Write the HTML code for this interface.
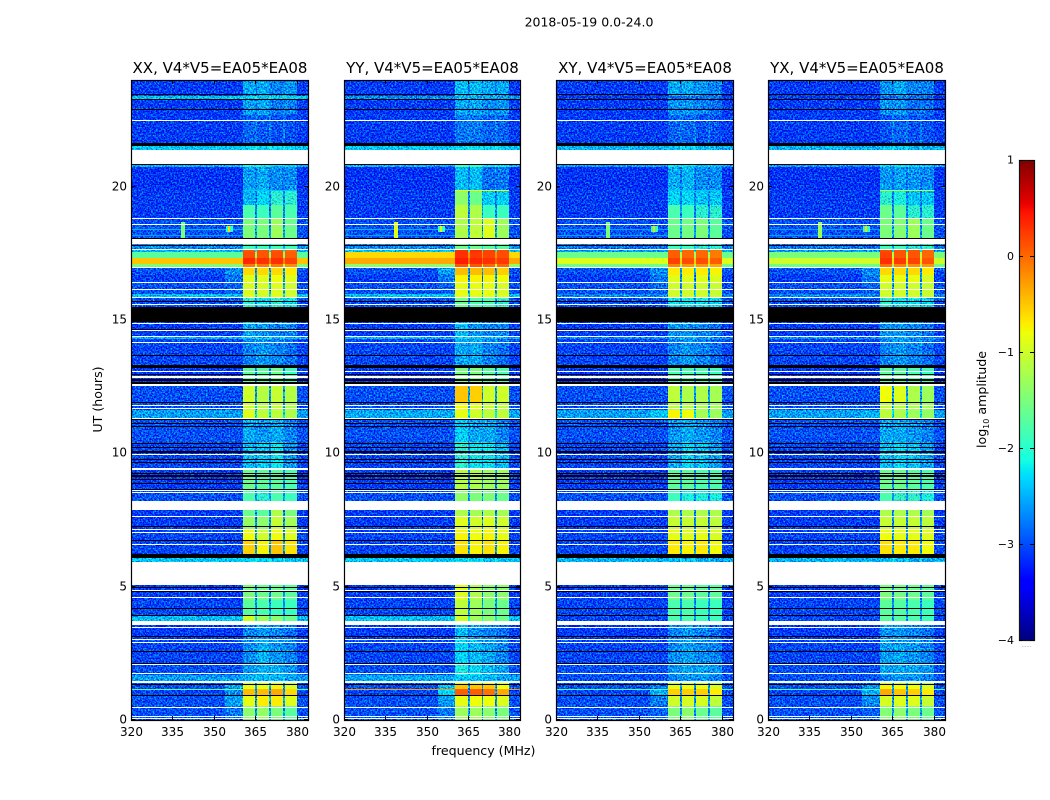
<!DOCTYPE html>
<html lang="en">
<head>
<meta charset="utf-8">
<title>2018-05-19 waterfall</title>
<style>
html,body{margin:0;padding:0;background:#fff;}
svg{display:block;font-family:"DejaVu Sans","Liberation Sans",sans-serif;fill:#000;}
</style>
</head>
<body>
<svg id="chart" xmlns="http://www.w3.org/2000/svg" width="1050" height="800" viewBox="0 0 1050 800">
<defs>
<filter id="speckle" filterUnits="userSpaceOnUse" x="120" y="70" width="840" height="660" color-interpolation-filters="sRGB">
<feTurbulence type="fractalNoise" baseFrequency="0.62" numOctaves="2" seed="7" result="n"/>
<feColorMatrix in="n" type="matrix" values="0 0 0 0 0.5  1.9 0 0 0 -0.45  0 0.9 0 0 0.05  0 0 0 0 1" result="m"/>
<feComposite in="SourceGraphic" in2="m" operator="arithmetic" k1="0" k2="1" k3="1" k4="-0.5" result="a"/>
<feComposite in="a" in2="SourceGraphic" operator="in"/>
</filter>
</defs>
<text x="589" y="26.5" font-size="12.5" text-anchor="middle">2018-05-19 0.0-24.0</text>
<text x="483.5" y="755" font-size="12.6" text-anchor="middle">frequency (MHz)</text>
<text x="0" y="0" font-size="12.6" text-anchor="middle" transform="translate(102,399.5) rotate(-90)">UT (hours)</text>
<text x="0" y="0" font-size="12.6" text-anchor="middle" transform="translate(986,399.5) rotate(-90)">log<tspan font-size="8" dy="3">10</tspan><tspan dy="-3"> amplitude</tspan></text>
<g id="panels"></g>
<g id="cbar"></g>
</svg>
<script>
// ---- chart data ----
const panelTitles = ["XX, V4*V5=EA05*EA08","YY, V4*V5=EA05*EA08","XY, V4*V5=EA05*EA08","YX, V4*V5=EA05*EA08"];
const freqTicks = [320,335,350,365,380];
const timeTicks = [0,5,10,15,20];
const cbarTicks = [-4,-3,-2,-1,0,1];

// time edges (UT hours) of the rows, top of plot downward
const rowEdges = [24,23.4,23.25,22.69,21.525,20.85,20.74,19.875,19.31,18.825,17.85,17.625,17.55,17.325,17.1,16.95,16.69,16.39,15.975,15.825,14.925,14.36,14.29,13.275,12.525,11.89,11.625,11.325,10.425,9.375,8.625,8.21,7.875,7.61,7.125,6.71,6.11,5.925,5.06,4.5,3.9,3.71,3.0,2.06,1.69,1.46,1.31,1.16,0.9,0.525,0];

// frequency edges (MHz): background, shoulder, band 1..4 with notches, background
const freqEdges = [320,354,360.4,365,365.7,370,370.7,375,375.7,380,384];

// log10 amplitude per row: [background, shoulder, band1, band2, band3, band4]
const levelsXX = [
[-3.1,-3.1,-2.55,-2.55,-2.75,-2.65],[-2.4,-2.4,-2.35,-2.35,-2.35,-2.35],[-3.1,-3.1,-2.6,-2.55,-2.8,-2.75],[-3.1,-3.1,-2.9,-2.95,-3.0,-3.0],[-2.4,-2.4,-2.3,-2.3,-2.3,-2.3],
[-2.5,-2.5,-2.0,-2.1,-2.3,-2.3],[-3.15,-3.15,-2.6,-2.55,-2.7,-2.7],[-3.1,-3.1,-2.5,-2.3,-2.0,-2.0],[-3.1,-3.1,-1.8,-1.9,-1.7,-1.8],[-3.0,-3.0,-1.5,-1.5,-1.3,-1.6],
[-2.7,-2.7,-1.9,-1.9,-1.9,-1.9],[-2.5,-2.5,0.1,0.1,0.1,0.0],[-1.7,-1.7,0.15,0.1,0.15,0.05],[-0.5,-0.5,0.35,0.3,0.3,0.2],[-1.5,-1.5,-0.1,-0.1,-0.1,-0.2],
[-3.0,-2.7,-0.6,-0.6,-0.6,-0.7],[-3.1,-2.8,-0.9,-0.9,-0.8,-0.9],[-3.0,-2.9,-0.95,-0.95,-0.9,-1.0],[-2.4,-2.4,-0.9,-1.0,-0.9,-1.0],[-3.0,-3.0,-2.0,-2.2,-2.0,-2.2],
[-3.1,-3.1,-2.55,-2.65,-2.75,-2.75],[-2.5,-2.5,-2.4,-2.4,-2.5,-2.5],[-3.05,-3.05,-2.75,-2.65,-2.75,-2.85],[-3.1,-3.1,-1.7,-1.7,-1.6,-1.9],[-3.0,-3.0,-1.0,-1.15,-1.05,-1.15],
[-3.0,-3.0,-1.0,-1.15,-1.1,-1.2],[-2.6,-2.6,-0.9,-1.1,-1.1,-1.2],[-3.0,-3.0,-2.55,-2.65,-2.55,-2.75],[-3.05,-3.05,-2.45,-2.35,-2.2,-2.65],[-3.1,-3.1,-1.6,-1.7,-1.7,-1.8],
[-3.0,-3.0,-1.8,-2.0,-1.8,-1.9],[-3.0,-3.0,-1.8,-2.0,-1.8,-1.9],[-3.1,-3.1,-1.6,-1.7,-1.2,-1.5],[-3.1,-3.1,-1.35,-1.4,-1.05,-1.25],[-3.05,-3.05,-0.8,-1.0,-0.8,-0.9],
[-3.05,-3.05,-0.55,-0.75,-0.5,-0.65],[-2.4,-2.4,-2.3,-2.3,-2.4,-2.4],[-2.4,-2.4,-2.3,-2.3,-2.4,-2.4],[-3.1,-3.1,-1.5,-1.6,-1.6,-1.7],[-3.05,-3.05,-1.7,-1.8,-1.9,-1.9],
[-2.45,-2.45,-1.0,-1.3,-1.4,-1.6],[-3.1,-3.1,-2.75,-2.65,-2.75,-2.85],[-3.05,-3.05,-2.7,-2.5,-2.65,-2.75],[-3.0,-3.0,-2.65,-2.5,-2.5,-2.65],[-2.6,-2.6,-2.5,-2.5,-2.5,-2.6],
[-3.0,-3.0,-1.0,-1.0,-1.0,-1.1],[-3.0,-2.6,-0.85,-0.85,-0.75,-0.95],[-3.05,-2.7,-0.45,-0.45,-0.35,-0.6],[-3.0,-2.6,-0.85,-0.7,-0.7,-0.9],[-3.0,-2.8,-1.4,-1.35,-1.5,-1.7]
];
const levelsYY = [
[-3.1,-3.1,-2.45,-2.45,-2.55,-2.55],[-2.7,-2.7,-2.5,-2.5,-2.6,-2.6],[-3.1,-3.1,-2.55,-2.55,-2.7,-2.65],[-3.1,-3.1,-2.8,-2.8,-2.9,-2.9],[-2.4,-2.4,-2.25,-2.25,-2.3,-2.3],
[-2.5,-2.5,-1.8,-1.9,-2.2,-2.2],[-3.15,-3.15,-2.45,-2.45,-2.85,-2.8],[-3.1,-3.1,-1.4,-1.6,-2.35,-2.35],[-3.1,-3.1,-1.1,-1.2,-1.9,-1.9],[-3.0,-3.0,-1.2,-1.1,-0.9,-1.3],
[-2.7,-2.7,-1.6,-1.6,-1.7,-1.7],[-2.4,-2.4,0.3,0.3,0.2,0.15],[-0.6,-0.6,0.3,0.25,0.2,0.15],[-0.35,-0.35,0.4,0.35,0.3,0.25],[-1.4,-1.4,0.1,0.1,0.0,0.0],
[-3.0,-2.6,-0.45,-0.45,-0.45,-0.55],[-3.1,-2.8,-0.75,-0.75,-0.75,-0.8],[-3.0,-2.9,-0.85,-0.85,-0.85,-0.95],[-2.4,-2.4,-0.85,-0.9,-0.85,-0.9],[-3.0,-3.0,-1.6,-1.8,-1.8,-1.95],
[-3.1,-3.1,-2.45,-2.65,-2.75,-2.75],[-2.5,-2.5,-2.3,-2.4,-2.5,-2.5],[-3.05,-3.05,-2.55,-2.55,-2.75,-2.85],[-3.1,-3.1,-1.5,-1.5,-1.7,-1.8],[-3.0,-3.0,-0.5,-0.55,-1.0,-1.0],
[-3.0,-3.0,-0.8,-0.9,-1.05,-1.1],[-2.55,-2.55,-0.85,-1.0,-1.1,-1.1],[-3.0,-3.0,-2.35,-2.55,-2.55,-2.75],[-3.05,-3.05,-2.0,-2.2,-2.2,-2.45],[-3.1,-3.1,-1.15,-1.2,-1.3,-1.3],
[-3.0,-3.0,-1.4,-1.5,-1.5,-1.6],[-3.0,-3.0,-1.4,-1.5,-1.5,-1.6],[-3.1,-3.1,-1.2,-1.25,-1.2,-1.25],[-3.1,-3.1,-0.9,-1.0,-0.9,-1.0],[-3.05,-3.05,-0.75,-0.8,-0.75,-0.85],
[-3.05,-3.05,-0.65,-0.75,-0.65,-0.75],[-2.4,-2.4,-2.3,-2.3,-2.4,-2.4],[-2.4,-2.4,-2.3,-2.3,-2.4,-2.4],[-3.1,-3.1,-0.9,-1.2,-1.4,-1.4],[-3.05,-3.05,-1.1,-1.3,-1.5,-1.6],
[-2.45,-2.45,-1.0,-1.3,-1.4,-1.6],[-3.1,-3.1,-2.45,-2.65,-2.75,-2.85],[-3.05,-3.05,-2.3,-2.45,-2.55,-2.75],[-3.0,-3.0,-2.1,-2.25,-2.45,-2.55],[-2.55,-2.55,-2.4,-2.4,-2.5,-2.6],
[-3.0,-3.0,-0.9,-0.9,-0.8,-1.0],[-3.0,-2.4,-0.5,-0.5,-0.5,-0.8],[-3.05,-2.3,0.05,0.05,-0.05,-0.35],[-3.0,-2.6,-0.85,-0.8,-0.8,-0.9],[-3.0,-2.8,-1.3,-1.3,-1.4,-1.5]
];
const levelsXY = [
[-3.1,-3.1,-2.55,-2.55,-2.65,-2.75],[-3.1,-3.1,-2.85,-2.85,-2.85,-2.85],[-3.1,-3.1,-2.65,-2.65,-2.75,-2.85],[-3.1,-3.1,-2.9,-2.9,-3.0,-3.0],[-2.5,-2.5,-2.4,-2.4,-2.5,-2.5],
[-2.6,-2.6,-2.2,-2.2,-2.4,-2.4],[-3.15,-3.15,-2.55,-2.5,-2.7,-2.7],[-3.1,-3.1,-2.3,-2.3,-2.4,-2.4],[-3.1,-3.1,-1.8,-1.9,-2.0,-2.0],[-3.0,-3.0,-1.6,-1.55,-1.5,-1.7],
[-2.8,-2.8,-1.9,-1.9,-2.0,-2.0],[-2.6,-2.6,0.05,0.0,0.0,-0.1],[-1.6,-1.6,0.05,0.0,0.0,-0.1],[-0.9,-0.9,0.2,0.15,0.15,0.05],[-1.6,-1.6,-0.15,-0.25,-0.25,-0.35],
[-3.0,-2.7,-0.7,-0.7,-0.7,-0.75],[-3.1,-2.8,-0.9,-0.9,-0.9,-0.95],[-3.0,-2.9,-1.0,-1.0,-1.0,-1.05],[-2.7,-2.7,-1.0,-1.0,-1.0,-1.05],[-3.0,-3.0,-2.2,-2.2,-2.2,-2.3],
[-3.1,-3.1,-2.65,-2.65,-2.75,-2.85],[-2.7,-2.7,-2.55,-2.55,-2.65,-2.65],[-3.05,-3.05,-2.75,-2.65,-2.75,-2.85],[-3.1,-3.1,-1.8,-1.8,-1.8,-1.9],[-3.0,-3.0,-1.1,-1.2,-1.2,-1.25],
[-3.0,-3.0,-1.15,-1.2,-1.25,-1.3],[-2.6,-2.4,-0.75,-0.8,-1.25,-1.3],[-3.0,-3.0,-2.65,-2.55,-2.65,-2.75],[-3.05,-3.05,-2.55,-2.3,-2.4,-2.6],[-3.1,-3.1,-1.7,-1.7,-1.8,-1.8],
[-3.0,-3.0,-1.9,-2.1,-2.1,-2.1],[-3.0,-3.0,-1.9,-2.1,-2.1,-2.1],[-3.1,-3.1,-1.2,-1.2,-1.2,-1.2],[-3.1,-3.1,-1.05,-1.05,-1.05,-1.1],[-3.05,-3.05,-0.85,-0.9,-0.85,-0.95],
[-3.05,-3.05,-0.7,-0.75,-0.7,-0.8],[-2.5,-2.5,-2.45,-2.45,-2.55,-2.55],[-2.5,-2.5,-2.45,-2.45,-2.55,-2.55],[-3.1,-3.1,-1.6,-1.6,-1.7,-1.7],[-3.05,-3.05,-1.8,-1.8,-1.9,-1.9],
[-3.05,-3.05,-1.8,-1.8,-1.9,-1.9],[-3.1,-3.1,-2.75,-2.65,-2.75,-2.85],[-3.05,-3.05,-2.7,-2.6,-2.7,-2.75],[-3.0,-3.0,-2.65,-2.55,-2.55,-2.65],[-3.0,-3.0,-2.75,-2.65,-2.65,-2.75],
[-3.0,-3.0,-1.1,-1.1,-1.1,-1.2],[-3.0,-2.8,-0.85,-0.85,-0.85,-0.95],[-3.05,-2.5,-0.55,-0.55,-0.55,-0.7],[-3.0,-2.8,-1.0,-0.95,-0.95,-1.1],[-3.0,-2.9,-1.5,-1.4,-1.6,-1.7]
];
const levelsYX = [
[-3.1,-3.1,-2.65,-2.55,-2.75,-2.75],[-3.1,-3.1,-2.85,-2.85,-2.85,-2.95],[-3.1,-3.1,-2.65,-2.65,-2.85,-2.85],[-3.1,-3.1,-3.0,-2.9,-3.0,-3.0],[-2.5,-2.5,-2.4,-2.4,-2.5,-2.5],
[-2.6,-2.6,-2.2,-2.2,-2.4,-2.4],[-3.15,-3.15,-2.65,-2.6,-2.65,-2.7],[-3.1,-3.1,-2.0,-2.1,-2.4,-2.4],[-3.1,-3.1,-1.6,-1.7,-2.0,-2.0],[-3.0,-3.0,-1.5,-1.45,-1.3,-1.6],
[-2.8,-2.8,-1.9,-1.9,-2.0,-2.0],[-2.6,-2.6,0.15,0.1,0.1,0.0],[-1.5,-1.5,0.2,0.1,0.1,0.0],[-1.0,-1.0,0.3,0.25,0.2,0.1],[-1.6,-1.6,-0.05,-0.15,-0.2,-0.25],
[-3.0,-2.7,-0.6,-0.6,-0.6,-0.7],[-3.1,-2.8,-0.85,-0.85,-0.85,-0.95],[-3.0,-2.9,-1.0,-1.0,-1.0,-1.05],[-2.7,-2.7,-1.0,-1.0,-1.0,-1.05],[-3.0,-3.0,-2.0,-2.2,-2.2,-2.3],
[-3.1,-3.1,-2.65,-2.65,-2.75,-2.85],[-2.7,-2.7,-2.55,-2.55,-2.65,-2.65],[-3.05,-3.05,-2.75,-2.65,-2.75,-2.85],[-3.1,-3.1,-1.7,-1.7,-1.8,-1.9],[-3.0,-3.0,-0.8,-0.9,-1.2,-1.3],
[-3.0,-3.0,-1.1,-1.15,-1.25,-1.3],[-2.6,-2.5,-1.1,-1.2,-1.3,-1.35],[-3.0,-3.0,-2.55,-2.55,-2.65,-2.75],[-3.05,-3.05,-2.45,-2.3,-2.4,-2.6],[-3.1,-3.1,-1.6,-1.6,-1.7,-1.8],
[-3.0,-3.0,-1.8,-1.95,-1.95,-2.1],[-3.0,-3.0,-1.8,-1.95,-1.95,-2.1],[-3.1,-3.1,-1.2,-1.2,-1.2,-1.25],[-3.1,-3.1,-1.05,-1.05,-1.05,-1.1],[-3.05,-3.05,-0.8,-0.85,-0.85,-0.9],
[-3.05,-3.05,-0.65,-0.7,-0.7,-0.8],[-2.5,-2.5,-2.45,-2.45,-2.55,-2.55],[-2.5,-2.5,-2.45,-2.45,-2.55,-2.55],[-3.1,-3.1,-1.5,-1.55,-1.6,-1.7],[-3.05,-3.05,-1.7,-1.75,-1.8,-1.9],
[-3.05,-3.05,-1.7,-1.75,-1.8,-1.9],[-3.1,-3.1,-2.65,-2.65,-2.75,-2.85],[-3.05,-3.05,-2.6,-2.55,-2.65,-2.75],[-3.0,-3.0,-2.55,-2.55,-2.55,-2.65],[-3.0,-3.0,-2.75,-2.65,-2.65,-2.75],
[-3.0,-3.0,-1.0,-1.05,-1.1,-1.2],[-3.0,-2.7,-0.75,-0.8,-0.8,-0.95],[-3.05,-2.5,-0.35,-0.5,-0.55,-0.7],[-3.0,-2.7,-0.95,-0.9,-0.9,-1.05],[-3.0,-2.9,-1.45,-1.4,-1.5,-1.6]
];
const panelLevels = [levelsXX, levelsYY, levelsXY, levelsYX];

// flagged-out rows, [start UT, end UT]
const whiteRows = [[22.46,22.5],[20.85,21.375],[18.79,18.825],[18.56,18.6],[17.85,18.04],[17.625,17.66],[16.95,16.99],[16.39,16.425],[16.125,16.16],[15.825,15.86],[15.56,15.6],[14.85,14.89],[14.59,14.625],[14.36,14.4],[14.14,14.175],[13.05,13.09],[12.825,12.9],[12.525,12.6],[11.775,11.81],[11.66,11.7],[11.29,11.325],[9.94,9.975],[9.375,9.45],[8.59,8.625],[8.51,8.55],[7.875,8.21],[7.61,7.65],[7.125,7.16],[7.01,7.05],[6.56,6.6],[5.06,5.925],[4.84,4.875],[4.575,4.61],[3.56,3.71],[3.45,3.49],[3.0,3.04],[2.89,2.925],[2.06,2.1],[1.725,1.76],[1.39,1.46],[0.45,0.49],[0.11,0.15],[0.04,0.075]];
const blackRows = [[23.42,23.49],[23.25,23.29],[22.875,22.91],[21.525,21.64],[20.81,20.85],[18.04,18.075],[17.775,17.81],[15.675,15.71],[14.91,15.47],[14.625,14.66],[13.65,13.69],[13.2,13.31],[12.94,12.975],[12.73,12.79],[12.6,12.68],[11.89,11.925],[11.25,11.29],[11.1,11.14],[10.99,11.03],[10.35,10.39],[10.2,10.24],[10.01,10.07],[9.75,9.79],[9.62,9.675],[9.225,9.26],[9.13,9.17],[9.0,9.04],[8.85,8.89],[8.625,8.68],[7.24,7.275],[6.71,6.75],[6.09,6.225],[4.95,4.99],[4.8,4.84],[4.16,4.2],[3.9,3.94],[3.11,3.15],[2.55,2.59],[2.1,2.14],[1.31,1.35],[0.9,0.94]];

// narrow horizontal RFI lines across the background: UT and per-panel level
const rfiLineTimes = [18.4,18.19,1.15];
const rfiLineLevels = [[-2.5,-2.5,-2.6,-2.6],[-2.6,-2.6,-2.6,-2.6],[-1.7,-0.25,-1.8,-1.8]];

// localised RFI patches: frequency span, time span, per-panel level
const rfiF0 = [338.2,354.3,355.0];
const rfiF1 = [339.5,356.8,355.8];
const rfiT0 = [18.04,18.3,18.3];
const rfiT1 = [18.67,18.52,18.52];
const rfiLevels = [[-1.5,-0.9,-1.5,-1.3],[-2.0,-1.9,-2.0,-2.0],[-0.6,-0.9,-0.6,-0.6]];

// thin line seen across the bands only
const bandLineTime = 19.875;
const bandLineLevels = [-2.4,-0.8,-2.4,-1.2];

// ---- geometry ----
const panelLeft = [131,344,556,768];
const panelRight = [308,520,733,945];
const plotTop = 80;
const plotBottom = 720;
const freqMin = 320, freqMax = 384, timeMax = 24, levelMin = -4, levelMax = 1;
const NS = "http://www.w3.org/2000/svg";

function xScale(i, f){ return panelLeft[i] + (f - freqMin) / (freqMax - freqMin) * (panelRight[i] - panelLeft[i]); }
function yScale(t){ return plotBottom - t / timeMax * (plotBottom - plotTop); }

function jetPiece(v, pts){
  for(let k = 1; k < pts.length; k++){
    if(v <= pts[k][0]){
      const a = pts[k-1], b = pts[k];
      return a[1] + (b[1]-a[1]) * (v-a[0]) / (b[0]-a[0]);
    }
  }
  return pts[pts.length-1][1];
}
function jet(level){
  const v = Math.max(0, Math.min(1, (level - levelMin) / (levelMax - levelMin)));
  const r = jetPiece(v, [[0,0],[0.35,0],[0.66,1],[0.89,1],[1,0.5]]);
  const g = jetPiece(v, [[0,0],[0.125,0],[0.375,1],[0.64,1],[0.91,0],[1,0]]);
  const b = jetPiece(v, [[0,0.5],[0.11,1],[0.34,1],[0.65,0],[1,0]]);
  return "rgb(" + Math.round(r*255) + "," + Math.round(g*255) + "," + Math.round(b*255) + ")";
}
function make(tag, parent){
  const el = document.createElementNS(NS, tag);
  parent.appendChild(el);
  return el;
}
function band(parent, x0, x1, y0, y1, fill){
  const el = make("rect", parent);
  const xa = Math.round(x0), xb = Math.round(x1), ya = Math.round(y0);
  el.setAttribute("x", xa);
  el.setAttribute("y", ya);
  el.setAttribute("width", Math.max(1, xb - xa));
  el.setAttribute("height", Math.max(1, Math.round(y1) - ya));
  el.setAttribute("fill", fill);
  el.setAttribute("shape-rendering", "crispEdges");
  return el;
}
function tickLine(parent, x1, y1, x2, y2){
  const el = make("line", parent);
  el.setAttribute("x1", x1);
  el.setAttribute("y1", y1);
  el.setAttribute("x2", x2);
  el.setAttribute("y2", y2);
  el.setAttribute("stroke", "#000");
  el.setAttribute("stroke-width", "1");
  el.setAttribute("shape-rendering", "crispEdges");
  return el;
}

const panels = document.getElementById("panels");
const noisy = make("g", panels);


noisy.setAttribute("filter", "url(#speckle)");
const clean = make("g", panels);


const overlay = make("g", panels);



panelTitles.forEach(function(title, p){
  const levels = panelLevels[p];
  // heatmap cells
  levels.forEach(function(row, r){
    const y0 = yScale(rowEdges[r]), y1 = yScale(rowEdges[r+1]);
    const bg = row[0], sh = row[1];
    const notch = bg + 0.35;
    const colLevels = [bg, sh, row[2], notch, row[3], notch, row[4], notch, row[5], bg];
    colLevels.forEach(function(lv, c){
      const layer = lv < -1.9 ? noisy : clean;
      const cell = band(layer, xScale(p, freqEdges[c]), xScale(p, freqEdges[c+1]), y0, y1, jet(lv));
      
      
    });
  });
  // horizontal RFI lines
  rfiLineTimes.forEach(function(t, k){
    const ln = band(clean, xScale(p, freqMin), xScale(p, 360.4), yScale(t), yScale(t) + 1, jet(rfiLineLevels[k][p]));
    
    
  });
  const ln2 = band(clean, xScale(p, 380), xScale(p, freqMax), yScale(rfiLineTimes[2]), yScale(rfiLineTimes[2]) + 1, jet(rfiLineLevels[2][p]));
  
  
  // RFI patches
  rfiF0.forEach(function(f, k){
    const patch = band(clean, xScale(p, f), xScale(p, rfiF1[k]), yScale(rfiT1[k]), yScale(rfiT0[k]), jet(rfiLevels[k][p]));
    
    
  });
  const bl = band(clean, xScale(p, 360.4), xScale(p, 380), yScale(bandLineTime), yScale(bandLineTime) + 1, jet(bandLineLevels[p]));
  
  
  // flagged rows
  blackRows.forEach(function(f){
    const b = band(overlay, xScale(p, freqMin), xScale(p, freqMax), yScale(f[1]), yScale(f[0]), "#000");
    
    
  });
  whiteRows.forEach(function(f){
    const w = band(overlay, xScale(p, freqMin), xScale(p, freqMax), yScale(f[1]), yScale(f[0]), "#fff");
    
    
  });

  // axes frame, ticks and labels
  const ax = make("g", panels);
  
  
  const left = panelLeft[p], right = panelRight[p];
  const frame = make("rect", ax);
  
  
  frame.setAttribute("x", left + 0.5);
  frame.setAttribute("y", plotTop + 0.5);
  frame.setAttribute("width", right - left);
  frame.setAttribute("height", plotBottom - plotTop);
  frame.setAttribute("fill", "none");
  frame.setAttribute("stroke", "#000");
  frame.setAttribute("stroke-width", "1.2");

  const ttl = make("text", ax);
  
  
  ttl.setAttribute("x", (left + right) / 2 + 0.5);
  ttl.setAttribute("y", 73);
  ttl.setAttribute("font-size", "15");
  ttl.setAttribute("text-anchor", "middle");
  ttl.textContent = title;

  freqTicks.forEach(function(f){
    const x = Math.round(xScale(p, f)) + 0.5;
    const tb = tickLine(ax, x, plotBottom, x, plotBottom - 4);
    
    
    const tt = tickLine(ax, x, plotTop, x, plotTop + 4);
    
    
    const lab = make("text", ax);
    
    
    lab.setAttribute("x", x);
    lab.setAttribute("y", 736);
    lab.setAttribute("font-size", "12");
    lab.setAttribute("text-anchor", "middle");
    lab.textContent = f;
  });
  timeTicks.forEach(function(t){
    const y = Math.round(yScale(t)) - 0.5;
    const tl = tickLine(ax, left, y, left + 4, y);
    
    
    const tr = tickLine(ax, right, y, right - 4, y);
    
    
    const lab = make("text", ax);
    
    
    lab.setAttribute("x", left - 4);
    lab.setAttribute("y", y + 4);
    lab.setAttribute("font-size", "12");
    lab.setAttribute("text-anchor", "end");
    lab.textContent = t;
  });
});

// ---- colorbar ----
const cbar = document.getElementById("cbar");
const cbLeft = 1019, cbRight = 1034, cbTop = 160, cbBottom = 640;
function cbY(level){ return cbBottom - (level - levelMin) / (levelMax - levelMin) * (cbBottom - cbTop); }
for(let i = 0; i < 240; i++){
  const lv = levelMin + (i + 0.5) / 240 * (levelMax - levelMin);
  const lv0 = levelMin + i / 240 * (levelMax - levelMin);
  const lv1 = levelMin + (i + 1) / 240 * (levelMax - levelMin);
  const seg = band(cbar, cbLeft, cbRight, cbY(lv1), cbY(lv0), jet(lv));
  
  
}
const cbFrame = make("rect", cbar);


cbFrame.setAttribute("x", cbLeft + 0.5);
cbFrame.setAttribute("y", cbTop + 0.5);
cbFrame.setAttribute("width", cbRight - cbLeft);
cbFrame.setAttribute("height", cbBottom - cbTop);
cbFrame.setAttribute("fill", "none");
cbFrame.setAttribute("stroke", "#111");
cbFrame.setAttribute("stroke-width", "1.2");
cbarTicks.forEach(function(t){
  const y = Math.round(cbY(t)) + 0.5;
  const a = tickLine(cbar, cbLeft, y, cbLeft + 4, y);
  
  
  const b = tickLine(cbar, cbRight, y, cbRight - 4, y);
  
  
  const lab = make("text", cbar);
  
  
  lab.setAttribute("x", cbLeft - 5);
  lab.setAttribute("y", (t === 1 ? y + 3 : y + 3.5));
  lab.setAttribute("font-size", "11");
  lab.setAttribute("text-anchor", "end");
  lab.textContent = t < 0 ? "\u2212" + Math.abs(t) : String(t);
});
const cbDots = make("text", cbar);


cbDots.setAttribute("x", cbLeft + 7.5);
cbDots.setAttribute("y", 647);
cbDots.setAttribute("font-size", "5");
cbDots.setAttribute("fill", "#777");
cbDots.setAttribute("text-anchor", "middle");
cbDots.textContent = "......";
</script>
</body>
</html>
